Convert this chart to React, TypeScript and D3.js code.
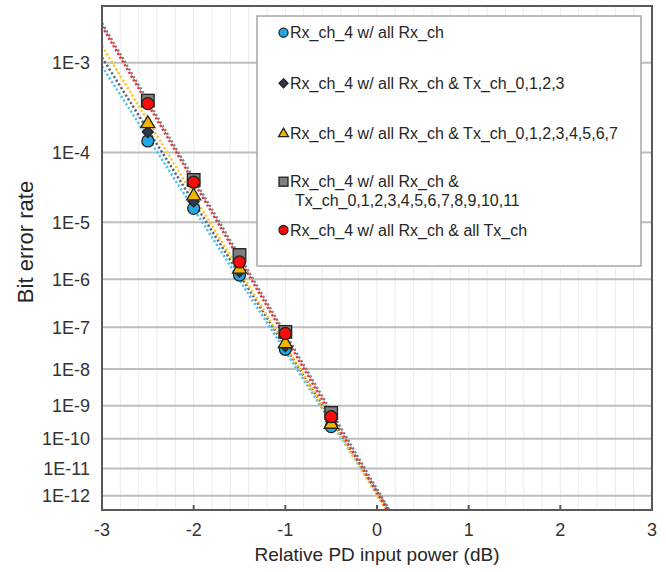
import React from "react";
import * as d3 from "d3";

// ---- data ----
const powers = [-2.5, -2, -1.5, -1, -0.5];
const berRxAll = [1.4e-4, 1.65e-5, 1.2e-6, 3.1e-8, 2.4e-10];
const berTx0123 = [1.8e-4, 2.1e-5, 1.4e-6, 3.7e-8, 3.5e-10];
const berTx0to7 = [2.3e-4, 2.6e-5, 1.6e-6, 4.4e-8, 3.0e-10];
const berTx0to11 = [4.1e-4, 4.3e-5, 2.8e-6, 7.9e-8, 6.2e-10];
const berTxAll = [3.8e-4, 4.0e-5, 2.1e-6, 7.3e-8, 4.8e-10];

const seriesNames = [
  ["Rx_ch_4 w/ all Rx_ch"],
  ["Rx_ch_4 w/ all Rx_ch & Tx_ch_0,1,2,3"],
  ["Rx_ch_4 w/ all Rx_ch & Tx_ch_0,1,2,3,4,5,6,7"],
  ["Rx_ch_4 w/ all Rx_ch &", "Tx_ch_0,1,2,3,4,5,6,7,8,9,10,11"],
  ["Rx_ch_4 w/ all Rx_ch & all Tx_ch"],
];
const xTicks = [-3, -2, -1, 0, 1, 2, 3];
const yTickExps = [3, 4, 5, 6, 7, 8, 9, 10, 11, 12];
const xTitle = "Relative PD input power (dB)";
const yTitle = "Bit error rate";

// ---- styles ----
const W = 666, H = 572;
const L = 102, R = 652, T = 6, B = 510;
const FONT = "'Liberation Sans', Arial, sans-serif";

type Sty = { shape: string; fill: string; line: string; size: number; lsize: number };
const styles: Sty[] = [
  { shape: "circle", fill: "#22a8e2", line: "#4ec3f2", size: 6, lsize: 4.5 },
  { shape: "diamond", fill: "#2e3a4c", line: "#5b6575", size: 5.5, lsize: 4.5 },
  { shape: "triangle", fill: "#f2b800", line: "#ffc629", size: 7, lsize: 5 },
  { shape: "square", fill: "#7f7f7f", line: "#7f7f7f", size: 6.3, lsize: 4.5 },
  { shape: "circle", fill: "#ff0a0a", line: "#e8333a", size: 6, lsize: 4.5 },
];

const allSeries = [berRxAll, berTx0123, berTx0to7, berTx0to11, berTxAll];

// BER axis: linear in log10(-log10(BER))
const tr = (ber: number) => Math.log10(-Math.log10(ber));

const x = d3.scaleLinear().domain([-3, 3]).range([L, R]);
const y = d3.scaleLinear().domain([tr(1e-3), tr(1e-12)]).range([62.7, 495.7]);

function fit(vals: number[]) {
  const ts = vals.map(tr);
  const mx = d3.mean(powers)!;
  const my = d3.mean(ts)!;
  let sxy = 0, sxx = 0;
  powers.forEach((p, i) => {
    sxy += (p - mx) * (ts[i] - my);
    sxx += (p - mx) * (p - mx);
  });
  const b = sxy / sxx;
  const a = my - b * mx;
  return (p: number) => a + b * p;
}

function Marker({ s, cx, cy, r }: { s: Sty; cx: number; cy: number; r: number }) {
  const stroke = "#222";
  const sw = 1.3;
  if (s.shape === "circle")
    return <circle cx={cx} cy={cy} r={r} fill={s.fill} stroke={stroke} strokeWidth={sw} />;
  if (s.shape === "square")
    return <rect x={cx - r} y={cy - r} width={2 * r} height={2 * r} fill={s.fill} stroke={stroke} strokeWidth={sw} />;
  if (s.shape === "diamond")
    return (
      <path
        d={`M${cx},${cy - r}L${cx + r},${cy}L${cx},${cy + r}L${cx - r},${cy}Z`}
        fill={s.fill}
        stroke={stroke}
        strokeWidth={sw}
      />
    );
  const h = r * 1.7;
  return (
    <path
      d={`M${cx},${cy - h * 0.6}L${cx + r},${cy + h * 0.4}L${cx - r},${cy + h * 0.4}Z`}
      fill={s.fill}
      stroke={stroke}
      strokeWidth={sw}
    />
  );
}

export default function App() {
  const minor = d3.range(-3, 3.0001, 0.2);
  const legendRows = [32.7, 83.3, 133.3, 181.7, 230];
  return (
    <svg
      width={W}
      height={H}
      style={{ position: "absolute", left: 0, top: 0, background: "#fff" }}
      fontFamily={FONT}
    >
      <defs>
        <clipPath id="plot">
          <rect x={L} y={T} width={R - L} height={B - T} />
        </clipPath>
      </defs>
      <rect x={0} y={0} width={W} height={H} fill="#fff" />
      {/* minor vertical grid */}
      {minor.map((v, i) => (
        <line key={"v" + i} x1={x(v)} x2={x(v)} y1={T} y2={B} stroke="#ececec" strokeWidth={1} />
      ))}
      {/* major horizontal grid */}
      {yTickExps.map((e) => (
        <line key={"h" + e} x1={L} x2={R} y1={y(tr(Math.pow(10, -e)))} y2={y(tr(Math.pow(10, -e)))} stroke="#bdbdbd" strokeWidth={2} />
      ))}
      {/* trend lines */}
      <g clipPath="url(#plot)">
        {allSeries.map((vals, i) => {
          const f = fit(vals);
          const pts = [-3, 3];
          const d = d3
            .line<number>()
            .x((p) => x(p))
            .y((p) => y(f(p)))(pts);
          return (
            <path key={"l" + i} d={d!} fill="none" stroke={styles[i].line} strokeWidth={2.5} strokeDasharray="2.2,2.2" />
          );
        })}
      </g>
      {/* frame */}
      <rect x={L} y={T} width={R - L} height={B - T} fill="none" stroke="#595959" strokeWidth={2} />
      {/* x ticks */}
      {xTicks.map((v) => (
        <g key={"xt" + v}>
          <line x1={x(v)} x2={x(v)} y1={B} y2={B - 5} stroke="#595959" strokeWidth={2} />
          <text x={x(v)} y={536} textAnchor="middle" fontSize={18} fill="#333">
            {v}
          </text>
        </g>
      ))}
      {/* y tick labels */}
      {yTickExps.map((e) => (
        <text key={"yt" + e} x={90} y={y(tr(Math.pow(10, -e))) + 6.5} textAnchor="end" fontSize={18} fill="#333">
          {"1E-" + e}
        </text>
      ))}
      {/* markers */}
      <g clipPath="url(#plot)">
        {allSeries.map((vals, i) =>
          vals.map((v, j) => (
            <Marker key={"m" + i + "-" + j} s={styles[i]} cx={x(powers[j])} cy={y(tr(v))} r={styles[i].size} />
          ))
        )}
      </g>
      {/* legend */}
      <rect x={257} y={16} width={384} height={250} fill="#fff" stroke="#a6a6a6" strokeWidth={1.5} />
      {seriesNames.map((lines, i) => (
        <g key={"lg" + i}>
          <Marker s={styles[i]} cx={283.5} cy={legendRows[i]} r={styles[i].lsize} />
          {lines.map((t, k) => (
            <text key={k} x={k === 0 ? 290 : 295} y={legendRows[i] + 5.5 + k * 19} fontSize={16} fill="#262626">
              {t}
            </text>
          ))}
        </g>
      ))}
      {/* titles */}
      <text x={x(0)} y={561} textAnchor="middle" fontSize={19} fill="#262626">
        {xTitle}
      </text>
      <text transform={`translate(33,242) rotate(-90)`} textAnchor="middle" fontSize={22} fill="#262626">
        {yTitle}
      </text>
    </svg>
  );
}
